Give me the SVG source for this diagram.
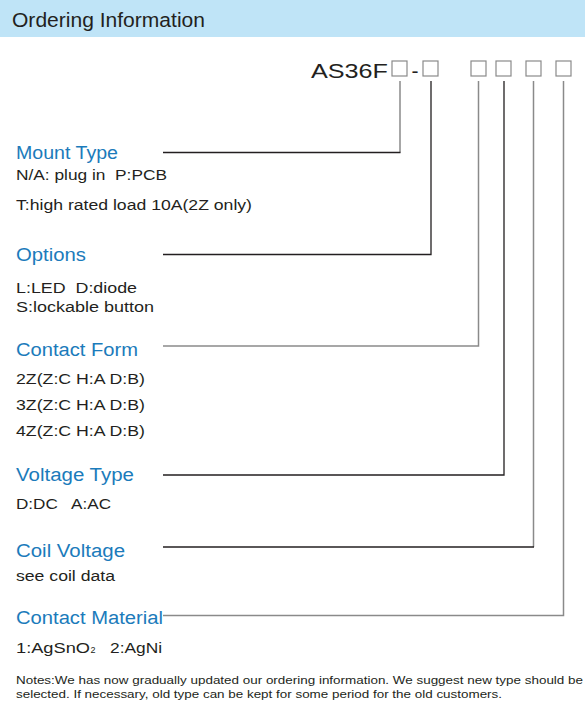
<svg xmlns="http://www.w3.org/2000/svg" width="587" height="723" viewBox="0 0 587 723">
<style>
text{font-family:"Liberation Sans",Arial,sans-serif;fill:#231f20;white-space:pre}
.h{fill:#1b7bbb;font-size:18px}
.b{font-size:14px}
.n{font-size:11.5px}
.dk{stroke:#231f20;stroke-width:1.3;fill:none}
.gr{stroke:#8a8a8a;stroke-width:1.5;fill:none}
.box{stroke:#8a8a8a;stroke-width:1.2;fill:#fff}
</style>
<rect x="0" y="0" width="585" height="37" fill="#bfe4f7"/>
<text x="12" y="27" font-size="20.5" textLength="193" lengthAdjust="spacingAndGlyphs">Ordering Information</text>
<g id="code">
<text x="311" y="78" font-size="21" textLength="77" lengthAdjust="spacingAndGlyphs">AS36F</text>
<text x="411.5" y="78" font-size="21">-</text>
<rect class="box" x="392" y="61" width="15" height="15"/>
<rect class="box" x="423" y="61" width="15" height="15"/>
<rect class="box" x="471" y="61" width="15" height="15"/>
<rect class="box" x="496" y="61" width="15" height="15"/>
<rect class="box" x="526" y="61" width="15" height="15"/>
<rect class="box" x="556" y="61" width="15" height="15"/>
</g>
<g id="connectors">
<path class="gr" d="M400 81V152.5"/><path class="dk" d="M163 152.5H400.5"/>
<path class="dk" d="M431 81V254.5H163"/>
<path class="gr" d="M478.5 81V346H163"/>
<path class="dk" d="M504 81V475H163"/>
<path class="gr" d="M533.5 81V547"/><path class="dk" d="M163 547H534"/>
<path class="gr" d="M563.5 81V615.5H163"/>
</g>
<g id="mount">
<text class="h" x="16" y="159" textLength="102" lengthAdjust="spacingAndGlyphs">Mount Type</text>
<text class="b" x="16" y="180" textLength="151" lengthAdjust="spacingAndGlyphs">N/A: plug in  P:PCB</text>
<text class="b" x="16" y="210" textLength="236" lengthAdjust="spacingAndGlyphs">T:high rated load 10A(2Z only)</text>
</g>
<g id="options">
<text class="h" x="16" y="261" textLength="70" lengthAdjust="spacingAndGlyphs">Options</text>
<text class="b" x="16" y="293" textLength="121" lengthAdjust="spacingAndGlyphs">L:LED  D:diode</text>
<text class="b" x="16" y="312" textLength="138" lengthAdjust="spacingAndGlyphs">S:lockable button</text>
</g>
<g id="contactform">
<text class="h" x="16" y="356" textLength="122" lengthAdjust="spacingAndGlyphs">Contact Form</text>
<text class="b" x="16" y="384" textLength="129" lengthAdjust="spacingAndGlyphs">2Z(Z:C H:A D:B)</text>
<text class="b" x="16" y="410" textLength="129" lengthAdjust="spacingAndGlyphs">3Z(Z:C H:A D:B)</text>
<text class="b" x="16" y="436" textLength="129" lengthAdjust="spacingAndGlyphs">4Z(Z:C H:A D:B)</text>
</g>
<g id="voltagetype">
<text class="h" x="16" y="481" textLength="118" lengthAdjust="spacingAndGlyphs">Voltage Type</text>
<text class="b" x="16" y="509" textLength="95" lengthAdjust="spacingAndGlyphs">D:DC   A:AC</text>
</g>
<g id="coilvoltage">
<text class="h" x="16" y="556.5" textLength="109" lengthAdjust="spacingAndGlyphs">Coil Voltage</text>
<text class="b" x="16" y="581" textLength="99" lengthAdjust="spacingAndGlyphs">see coil data</text>
</g>
<g id="contactmaterial">
<text class="h" x="16" y="624" textLength="147" lengthAdjust="spacingAndGlyphs">Contact Material</text>
<text class="b" x="16" y="653" textLength="74" lengthAdjust="spacingAndGlyphs">1:AgSnO</text>
<text x="90.5" y="653" font-size="9">2</text>
<text class="b" x="110" y="653" textLength="52" lengthAdjust="spacingAndGlyphs">2:AgNi</text>
</g>
<g id="notes">
<text class="n" x="16" y="684" textLength="567" lengthAdjust="spacingAndGlyphs">Notes:We has now gradually updated our ordering information. We suggest new type should be</text>
<text class="n" x="16" y="698" textLength="486" lengthAdjust="spacingAndGlyphs">selected. If necessary, old type can be kept for some period for the old customers.</text>
</g>
</svg>
